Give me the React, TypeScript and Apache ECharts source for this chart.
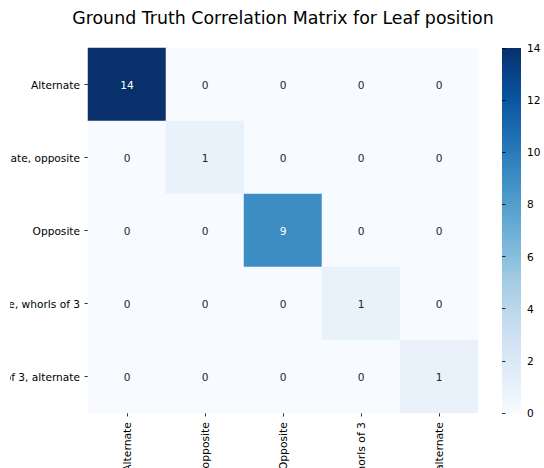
import React, { useEffect, useRef } from "react";
import * as echarts from "echarts";

const titleText = "Ground Truth Correlation Matrix for Leaf position";
const categories = [
  "Alternate",
  "Alternate, opposite",
  "Opposite",
  "Opposite, whorls of 3",
  "Whorls of 3, alternate",
];
const matrix = [
  [14, 0, 0, 0, 0],
  [0, 1, 0, 0, 0],
  [0, 0, 9, 0, 0],
  [0, 0, 0, 1, 0],
  [0, 0, 0, 0, 1],
];
const colorMin = 0;
const colorMax = 14;
const colorTicks = 2;
const blues = [
  "#f7fbff",
  "#deebf7",
  "#c6dbef",
  "#9ecae1",
  "#6baed6",
  "#4292c6",
  "#2171b5",
  "#08519c",
  "#08306b",
];

// the reference's left edge crops the long row labels at about x = 10
const CLIP_LEFT = 10;

export default function App() {
  const ref = useRef<HTMLDivElement>(null);
  useEffect(() => {
    document.body.style.margin = "0";
    const chart = echarts.init(ref.current!, undefined, { renderer: "svg" });
    const data: any[] = [];
    matrix.forEach((row, r) =>
      row.forEach((v, c) => {
        data.push({
          value: [c, r, v],
          label: { color: v / colorMax > 0.5 ? "#ffffff" : "#262626" },
        });
      })
    );
    const gx = 88, gy = 48, gw = 390, gh = 365;
    const cbx = 502, cbw = 19;
    chart.setOption({
      animation: false,
      backgroundColor: "#ffffff",
      textStyle: { fontFamily: "DejaVu Sans" },
      title: {
        text: titleText,
        left: 283,
        top: 9,
        padding: 0,
        textAlign: "center",
        textStyle: { fontSize: 17.4, fontWeight: "normal", color: "#000", fontFamily: "DejaVu Sans" },
      },
      grid: [
        { left: gx, top: gy, width: gw, height: gh, outerBoundsMode: "none", containLabel: false },
        { left: cbx, top: gy, width: cbw, height: gh, outerBoundsMode: "none", containLabel: false },
      ],
      xAxis: [
        {
          type: "category",
          gridIndex: 0,
          data: categories,
          position: "bottom",
          axisLine: { show: false },
          axisTick: { show: true, alignWithLabel: true, length: 3.5, lineStyle: { color: "#000", width: 0.8 } },
          axisLabel: { rotate: 90, fontSize: 10.8, color: "#000", margin: 9, interval: 0 },
          splitLine: { show: false },
        },
        { type: "value", gridIndex: 1, show: false, min: 0, max: 1 },
      ],
      yAxis: [
        {
          type: "category",
          gridIndex: 0,
          data: categories,
          inverse: true,
          axisLine: { show: false },
          axisTick: { show: true, alignWithLabel: true, length: 3.5, lineStyle: { color: "#000", width: 0.8 } },
          axisLabel: { fontSize: 10.6, color: "#000", margin: 8, interval: 0 },
          splitLine: { show: false },
        },
        {
          type: "value",
          gridIndex: 1,
          position: "right",
          min: colorMin,
          max: colorMax,
          interval: colorTicks,
          axisLine: { show: false },
          axisTick: { show: true, length: 3.5, lineStyle: { color: "#000", width: 0.8 } },
          axisLabel: { fontSize: 10.6, color: "#000", margin: 6 },
          splitLine: { show: false },
        },
      ],
      visualMap: {
        show: false,
        min: colorMin,
        max: colorMax,
        seriesIndex: 0,
        inRange: { color: blues },
      },
      graphic: [
        {
          type: "rect",
          shape: { x: cbx, y: gy, width: cbw, height: gh },
          style: {
            fill: new echarts.graphic.LinearGradient(
              0, 1, 0, 0,
              blues.map((c, i) => ({ offset: i / (blues.length - 1), color: c }))
            ),
          },
          silent: true,
        },
      ],
      series: [
        {
          type: "heatmap",
          xAxisIndex: 0,
          yAxisIndex: 0,
          data,
          label: { show: true, fontSize: 10.6, fontFamily: "DejaVu Sans" },
          itemStyle: { borderWidth: 0 },
        },
      ],
    });
    return () => chart.dispose();
  }, []);
  return (
    <div
      style={{
        position: "absolute",
        left: CLIP_LEFT,
        top: 0,
        width: 544 - CLIP_LEFT,
        height: 468,
        overflow: "hidden",
        background: "#fff",
      }}
    >
      <div
        ref={ref}
        style={{ position: "absolute", left: -CLIP_LEFT, top: 0, width: 544, height: 468 }}
      />
    </div>
  );
}
